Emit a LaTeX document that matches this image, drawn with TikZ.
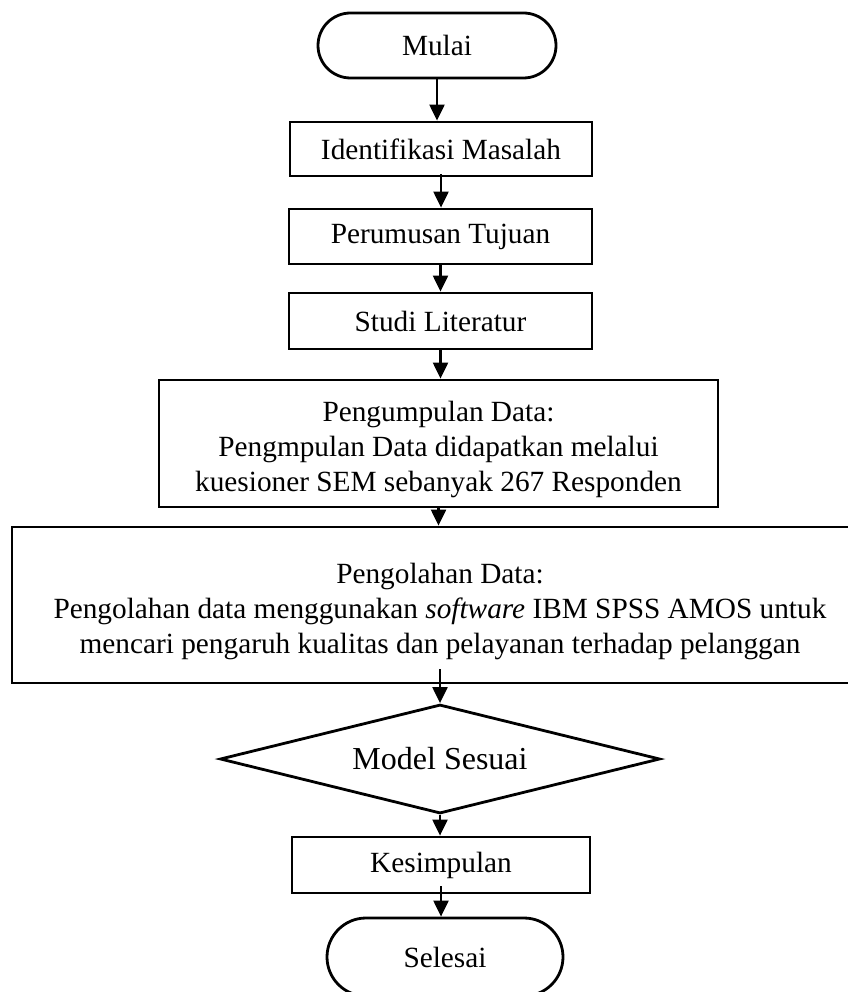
\documentclass[tikz,border=0pt]{standalone}
\usepackage{fontspec}
\setmainfont{Liberation Serif}
\usetikzlibrary{shapes.misc,shapes.geometric,arrows.meta}
\begin{document}
\begin{tikzpicture}[x=1pt,y=1pt,
  every node/.style={inner sep=0pt,line width=2.8pt,font=\fontsize{29.3}{35}\selectfont,align=center},
  procbox/.style={draw,rectangle},
  term/.style={draw,rounded rectangle},
  decis/.style={draw,diamond,shape aspect=4},
  flow/.style={line width=2.2pt,-{Triangle[width=15pt,length=16pt]}}]
\useasboundingbox (0,0) rectangle (847,-992);
\node[term,minimum width=238pt,minimum height=65pt] (mulai) at (437,-45.5) {Mulai};
\node[procbox,minimum width=302pt,minimum height=54pt] (ident) at (441,-149) {Identifikasi Masalah};
\node[procbox,minimum width=303pt,minimum height=55pt] (rumus) at (440.5,-236.5) {Perumusan Tujuan};
\node[procbox,minimum width=303pt,minimum height=56pt] (studi) at (440.5,-321) {Studi Literatur};
\node[procbox,minimum width=559pt,minimum height=127pt] (kumpul) at (438.5,-443.5) {};
\node (kumpultxt) at ([yshift=-6pt]kumpul.center) {Pengumpulan Data:\\Pengmpulan Data didapatkan melalui\\kuesioner SEM sebanyak 267 Responden};
\node[procbox,minimum width=856pt,minimum height=156pt] (olah) at (440,-605) {};
\node (olahtxt) at ([yshift=-6pt]olah.center) {Pengolahan Data:\\Pengolahan data menggunakan \textit{software} IBM SPSS AMOS untuk\\mencari pengaruh kualitas dan pelayanan terhadap pelanggan};
\node[decis,minimum width=440pt,minimum height=109pt,font=\fontsize{32}{38}\selectfont] (model) at (440,-759) {Model Sesuai};
\node[procbox,minimum width=298pt,minimum height=56pt] (simpul) at (441,-865) {Kesimpulan};
\node[term,minimum width=236pt,minimum height=78pt] (selesai) at (445,-957) {Selesai};
\draw[flow] (mulai.south) -- (mulai.south |- ident.north);
\draw[flow] ([yshift=3pt]ident.south) -- (ident.south |- rumus.north);
\draw[flow] (rumus.south) -- (rumus.south |- studi.north);
\draw[flow] (studi.south) -- (studi.south |- kumpul.north);
\draw[flow] (kumpul.south) -- (kumpul.south |- olah.north);
\draw[flow] ([yshift=15pt]olah.south) -- (model.north);
\draw[flow] (model.south) -- (model.south |- simpul.north);
\draw[flow] ([yshift=8pt]simpul.south) -- (simpul.south |- selesai.north);
\end{tikzpicture}
\end{document}
